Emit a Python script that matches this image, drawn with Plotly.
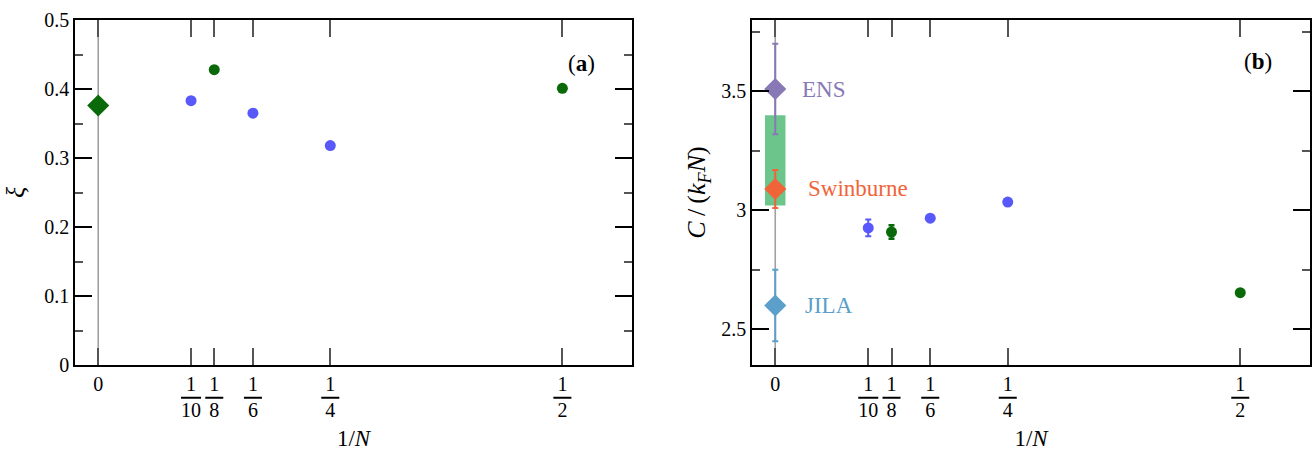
import plotly.graph_objects as go

# ---------------- data ----------------
# panel (a): xi vs 1/N
a_blue_x = [1/10, 1/6, 1/4]
a_blue_y = [0.383, 0.365, 0.318]
a_green_x = [1/8, 1/2]
a_green_y = [0.428, 0.401]
a_diamond_x = [0.0]
a_diamond_y = [0.376]

# panel (b): contact C/(k_F N) vs 1/N
b_blue_x = [1/10, 1/6, 1/4]
b_blue_y = [2.926, 2.967, 3.035]
b_blue_err = [0.035, 0.0, 0.0]
b_green_x = [1/8, 1/2]
b_green_y = [2.909, 2.654]
b_green_err = [0.028, 0.0]

exp_names = ["ENS", "Swinburne", "JILA"]
exp_y = [3.51, 3.09, 2.60]
exp_err = [0.19, 0.08, 0.15]
exp_colors = ["#8878b6", "#ef6439", "#5b9fca"]

band_lo, band_hi = 3.02, 3.40
band_half = 0.011

tick_vals = [0, 1/10, 1/8, 1/6, 1/4, 1/2]
ov = "<span style='text-decoration:overline'>"
tick_text = ["0",
             "1<br>" + ov + "10</span>",
             "1<br>" + ov + "&#8201;8&#8201;</span>",
             "1<br>" + ov + "&#8201;6&#8201;</span>",
             "1<br>" + ov + "&#8201;4&#8201;</span>",
             "1<br>" + ov + "&#8201;2&#8201;</span>"]

BLUE = "#5858fb"
GREEN = "#0a6a0a"
FONT = "'Liberation Serif', 'DejaVu Serif', serif"

fig = go.Figure()

# panel a
fig.add_trace(go.Scatter(x=a_blue_x, y=a_blue_y, mode="markers",
                         marker=dict(color=BLUE, size=11), xaxis="x", yaxis="y"))
fig.add_trace(go.Scatter(x=a_green_x, y=a_green_y, mode="markers",
                         marker=dict(color=GREEN, size=11), xaxis="x", yaxis="y"))
fig.add_trace(go.Scatter(x=a_diamond_x, y=a_diamond_y, mode="markers",
                         marker=dict(color=GREEN, size=17, symbol="diamond"),
                         xaxis="x", yaxis="y"))

# panel b
for name, yv, er, col in zip(exp_names, exp_y, exp_err, exp_colors):
    fig.add_trace(go.Scatter(x=[0.0], y=[yv], mode="markers",
                             marker=dict(color=col, size=17, symbol="diamond"),
                             error_y=dict(type="data", array=[er], color=col,
                                          thickness=2, width=3),
                             xaxis="x2", yaxis="y2"))
fig.add_trace(go.Scatter(x=b_blue_x, y=b_blue_y, mode="markers",
                         marker=dict(color=BLUE, size=11),
                         error_y=dict(type="data", array=b_blue_err, color=BLUE,
                                      thickness=2, width=3),
                         xaxis="x2", yaxis="y2"))
fig.add_trace(go.Scatter(x=b_green_x, y=b_green_y, mode="markers",
                         marker=dict(color=GREEN, size=11),
                         error_y=dict(type="data", array=b_green_err, color=GREEN,
                                      thickness=2.5, width=3),
                         xaxis="x2", yaxis="y2"))

shapes = [
    dict(type="line", xref="x", yref="y domain", x0=0, x1=0, y0=0, y1=1,
         line=dict(color="#a0a0a0", width=1.6), layer="below"),
    dict(type="line", xref="x2", yref="y2 domain", x0=0, x1=0, y0=0, y1=1,
         line=dict(color="#a0a0a0", width=1.6), layer="below"),
    dict(type="rect", xref="x2", yref="y2", x0=-band_half, x1=band_half,
         y0=band_lo, y1=band_hi, fillcolor="#6cc68c", line=dict(width=0),
         layer="below"),
]

annotations = [
    dict(text="(<b>a</b>)", xref="x domain", yref="y domain", x=0.910, y=0.875,
         xanchor="center", yanchor="middle",
         showarrow=False, font=dict(family=FONT, size=23, color="black")),
    dict(text="(<b>b</b>)", xref="x2 domain", yref="y2 domain", x=0.907, y=0.881,
         xanchor="center", yanchor="middle",
         showarrow=False, font=dict(family=FONT, size=23, color="black")),
]
label_x = [0.027, 0.033, 0.030]
for name, yv, col, lx in zip(exp_names, exp_y, exp_colors, label_x):
    annotations.append(dict(text=name, xref="x2", yref="y2", x=lx, y=yv,
                            xanchor="left", yanchor="middle", showarrow=False,
                            font=dict(family=FONT, size=23, color=col)))

xaxis_common = dict(range=[-0.025, 0.575], tickvals=tick_vals, ticktext=tick_text,
                    ticks="inside", ticklen=17, tickwidth=1.5, tickcolor="#555555",
                    showline=True, linecolor="black", linewidth=1.5, mirror="ticks",
                    showgrid=False, zeroline=False,
                    tickfont=dict(family=FONT, size=20, color="black"),
                    title=dict(text="1/<i>N</i>", font=dict(family=FONT, size=23, color="black"),
                               standoff=10))

fig.update_layout(
    width=1314, height=451,
    margin=dict(l=0, r=0, t=20, b=86),
    paper_bgcolor="white", plot_bgcolor="white",
    showlegend=False,
    font=dict(family=FONT),
    shapes=shapes, annotations=annotations,
    xaxis=dict(domain=[75/1314, 632/1314], anchor="y", **xaxis_common),
    xaxis2=dict(domain=[752/1314, 1310/1314], anchor="y2", **xaxis_common),
    yaxis=dict(domain=[0, 1], anchor="x", range=[0, 0.5], dtick=0.1, tick0=0,
               ticks="inside", ticklen=17, tickwidth=1.5, tickcolor="black",
               minor=dict(dtick=0.05, ticks="inside", ticklen=8, tickwidth=1.5, tickcolor="#555555"),
               showline=True, linecolor="black", linewidth=1.5, mirror="ticks",
               showgrid=False, zeroline=False,
               tickfont=dict(family=FONT, size=20, color="black"),
               title=dict(text="<i>ξ</i>", font=dict(family=FONT, size=26, color="black"),
                          standoff=12)),
    yaxis2=dict(domain=[0, 1], anchor="x2", range=[2.35, 3.80], dtick=0.5, tick0=2.5,
                ticks="inside", ticklen=17, tickwidth=1.5, tickcolor="black",
                minor=dict(dtick=0.25, ticks="inside", ticklen=8, tickwidth=1.5, tickcolor="#555555"),
                showline=True, linecolor="black", linewidth=1.5, mirror="ticks",
                showgrid=False, zeroline=False,
                tickfont=dict(family=FONT, size=20, color="black"),
                title=dict(text="<i>C</i>&#8201;/&#8201;(<i>k</i><sub><i>F</i></sub><i>N</i>)",
                           font=dict(family=FONT, size=26, color="black"), standoff=8)),
)

fig.write_html("out.html")
